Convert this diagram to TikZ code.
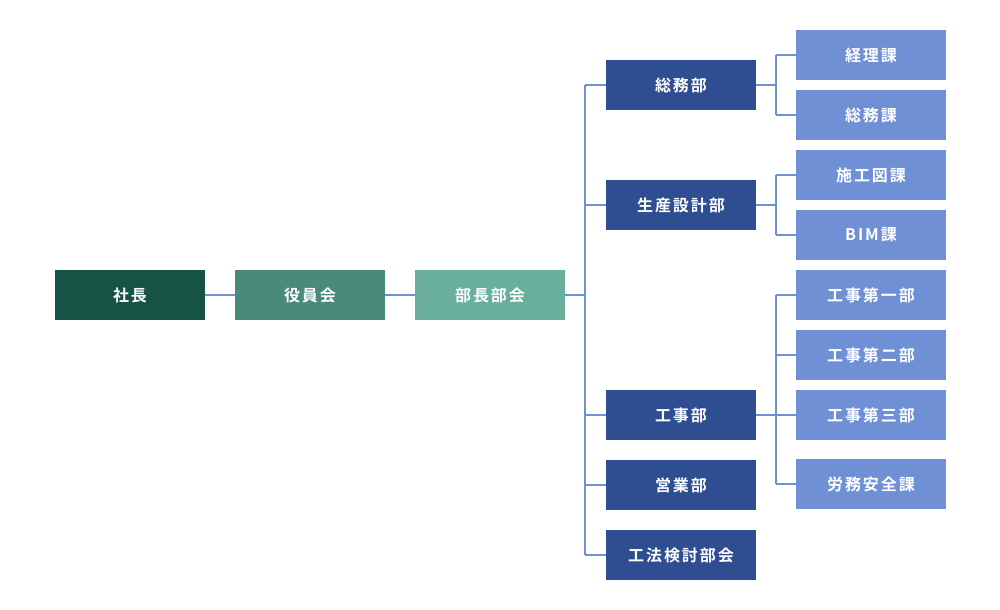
\documentclass[tikz,border=0pt]{standalone}
\usepackage{fontspec}
\newfontfamily\jpfont[LetterSpace=12,BoldFont={Noto Sans CJK JP Bold}]{Noto Sans CJK JP}
\definecolor{cPres}{HTML}{175244}
\definecolor{cBoard}{HTML}{4A8A7A}
\definecolor{cMgr}{HTML}{6AAE9C}
\definecolor{cDept}{HTML}{2E4E91}
\definecolor{cSec}{HTML}{7090D5}
\definecolor{cLine}{HTML}{7090D5}
\begin{document}
\begin{tikzpicture}[x=0.75pt,y=-0.75pt,
  box/.style={minimum width=112.5pt,minimum height=37.5pt,inner sep=0pt,text=white,
    font=\jpfont\bfseries\fontsize{12}{14}\selectfont},
  pres/.style={box,fill=cPres},
  board/.style={box,fill=cBoard},
  mgr/.style={box,fill=cMgr},
  dept/.style={box,fill=cDept},
  sec/.style={box,fill=cSec},
  conn/.style={draw=cLine,line width=0.8pt}]
\useasboundingbox (0,0) rectangle (1000,610);
\node[pres] (pres) at (130,295) {社長};
\node[board] (board) at (310,295) {役員会};
\node[mgr] (mgr) at (490,295) {部長部会};
\node[dept] (d1) at (681,85) {総務部};
\node[dept] (d2) at (681,205) {生産設計部};
\node[dept] (d3) at (681,415) {工事部};
\node[dept] (d4) at (681,485) {営業部};
\node[dept] (d5) at (681,555) {工法検討部会};
\node[sec] (s1) at (871,55) {経理課};
\node[sec] (s2) at (871,115) {総務課};
\node[sec] (s3) at (871,175) {施工図課};
\node[sec] (s4) at (871,235) {BIM課};
\node[sec] (s5) at (871,295) {工事第一部};
\node[sec] (s6) at (871,355) {工事第二部};
\node[sec] (s7) at (871,415) {工事第三部};
\node[sec] (s8) at (871,484) {労務安全課};
\coordinate (bx) at (585,0);
\coordinate (cx) at (776,0);
\draw[conn] (pres.east) -- (board.west);
\draw[conn] (board.east) -- (mgr.west);
\draw[conn] (mgr.east) -- (bx |- mgr.east);
\draw[conn] (bx |- d1.west) -- (bx |- d5.west);
\foreach \d in {d1,d2,d3,d4,d5} \draw[conn] (bx |- \d.west) -- (\d.west);
\draw[conn] (d1.east) -- (cx |- d1.east);
\draw[conn] (cx |- s1.west) -- (cx |- s2.west);
\draw[conn] (d2.east) -- (cx |- d2.east);
\draw[conn] (cx |- s3.west) -- (cx |- s4.west);
\draw[conn] (d3.east) -- (cx |- d3.east);
\draw[conn] (cx |- s5.west) -- (cx |- s8.west);
\foreach \s in {s1,s2,s3,s4,s5,s6,s7,s8} \draw[conn] (cx |- \s.west) -- (\s.west);
\end{tikzpicture}
\end{document}
